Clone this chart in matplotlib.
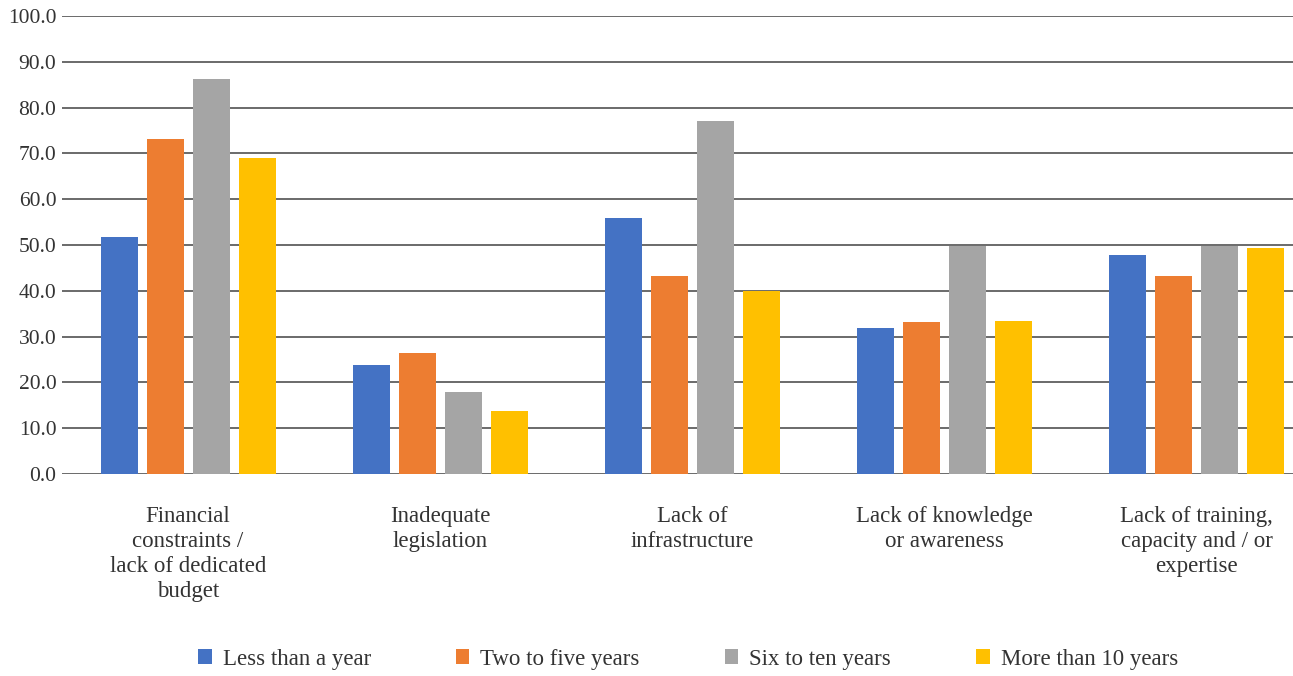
import matplotlib
matplotlib.use("Agg")
import matplotlib.pyplot as plt
import numpy as np

categories = [
    "Financial\nconstraints /\nlack of dedicated\nbudget",
    "Inadequate\nlegislation",
    "Lack of\ninfrastructure",
    "Lack of knowledge\nor awareness",
    "Lack of training,\ncapacity and / or\nexpertise",
]
series_names = ["Less than a year", "Two to five years", "Six to ten years", "More than 10 years"]
less_than_year = [51.7, 23.8, 55.9, 31.9, 47.8]
two_to_five = [73.1, 26.4, 43.2, 33.2, 43.2]
six_to_ten = [86.2, 17.9, 77.1, 49.8, 49.8]
more_than_ten = [69.0, 13.8, 40.0, 33.4, 49.3]
colors = ["#4472C4", "#ED7D31", "#A5A5A5", "#FFC000"]
yticks = np.arange(0, 101, 10)

plt.rcParams["font.family"] = ["Liberation Serif", "DejaVu Serif"]
text_color = "#333333"

fig = plt.figure(figsize=(12.93, 6.76), dpi=100)
ax = fig.add_axes([62 / 1293, 202 / 676, 1 - 62 / 1293, 458 / 676])

x = np.arange(len(categories))
step = 46 / 252
width = 37 / 252
all_series = [less_than_year, two_to_five, six_to_ten, more_than_ten]
handles = []
for i, (vals, name, c) in enumerate(zip(all_series, series_names, colors)):
    h = ax.bar(x + (i - 1.5) * step, vals, width=width, color=c, label=name, zorder=3)
    handles.append(h)

ax.set_ylim(0, 100)
ax.set_xlim(-0.5, 4.5 - 30 / 252)
ax.set_yticks(yticks)
ax.set_yticklabels([f"{v:.1f}" for v in yticks], fontsize=15.5, color=text_color)
ax.set_xticks(x)
ax.set_xticklabels(categories, fontsize=16.5, color=text_color, linespacing=1.25, va="top")
ax.tick_params(axis="x", length=0, pad=23)
ax.tick_params(axis="y", length=0, pad=4)
for s in ax.spines.values():
    s.set_visible(False)
ax.grid(axis="y", color="#5f5f5f", linewidth=1.3, zorder=0)
ax.set_axisbelow(True)

fig.legend(handles, series_names, loc="center", bbox_to_anchor=(0.532, 0.025), ncol=4,
           frameon=False, fontsize=16.5, handlelength=0.6, handleheight=0.6,
           handletextpad=0.48, columnspacing=3.7, labelcolor=text_color)

fig.savefig("out.png", dpi=100)
